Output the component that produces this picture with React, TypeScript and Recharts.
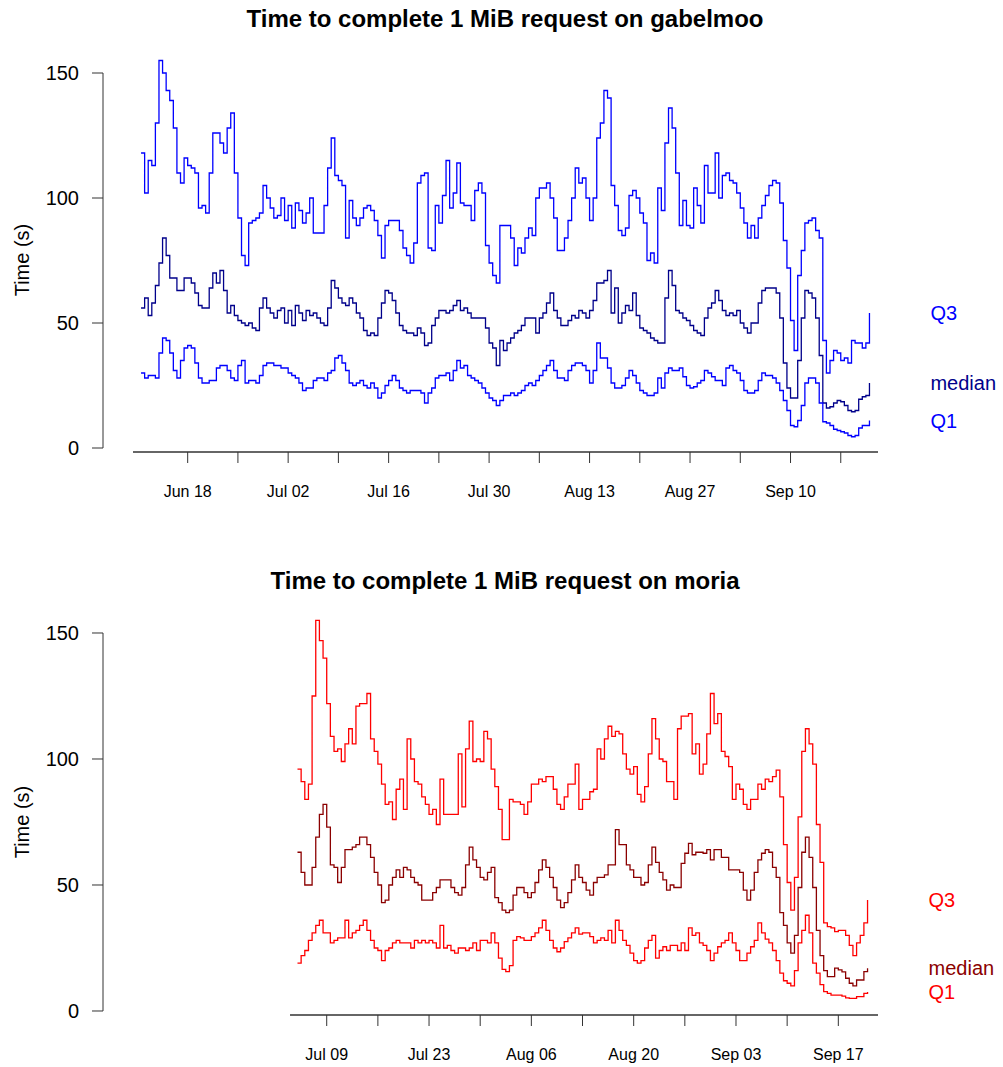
import React from 'react';
import { LineChart, Line, XAxis, YAxis, ReferenceLine } from 'recharts';

const FONT = '"Liberation Sans", Arial, Helvetica, sans-serif';

// x values are day numbers counted from May 31 (Jun 1 = 1, Jul 1 = 31, Aug 1 = 62, Sep 1 = 93)
const STEP = 0.5;
const GAB_START = 11.5;
const MORIA_START = 35;

// ---- gabelmoo (seconds) ----
const GAB_Q3 = [
  118, 102, 115, 113, 130, 155, 150, 143, 139, 128,
  110, 106, 116, 113, 112, 110, 96, 97, 94, 110,
  126, 126, 122, 118, 128, 134, 110, 92, 77, 73,
  90, 91, 92, 94, 105, 100, 96, 92, 93, 100,
  91, 97, 88, 98, 95, 90, 94, 100, 86, 86,
  86, 97, 112, 124, 109, 107, 105, 84, 99, 92,
  89, 92, 96, 97, 95, 91, 85, 76, 89, 91,
  91, 91, 87, 80, 77, 74, 82, 106, 109, 110,
  80, 79, 97, 90, 101, 115, 96, 102, 114, 98,
  97, 97, 91, 103, 106, 102, 81, 74, 69, 66,
  89, 89, 89, 84, 73, 80, 78, 84, 88, 85,
  100, 104, 104, 106, 100, 92, 79, 79, 84, 91,
  100, 112, 106, 108, 100, 91, 100, 124, 130, 143,
  140, 105, 97, 87, 85, 88, 101, 103, 100, 94,
  90, 75, 78, 74, 104, 95, 122, 136, 128, 110,
  89, 99, 89, 88, 104, 97, 90, 113, 102, 102,
  118, 100, 109, 110, 107, 106, 102, 96, 90, 84,
  89, 84, 92, 97, 101, 105, 107, 106, 98, 83,
  72, 51, 39, 69, 79, 90, 91, 92, 87, 84,
  43, 30, 35, 39, 38, 35, 36, 34, 43, 42,
  42, 40, 42, 54,
];
const GAB_MEDIAN = [
  56, 60, 53, 58, 65, 74, 84, 77, 68, 68,
  63, 63, 68, 68, 66, 62, 57, 56, 56, 64,
  70, 66, 71, 63, 54, 57, 53, 51, 50, 49,
  50, 48, 47, 56, 60, 56, 54, 52, 55, 56,
  50, 55, 49, 57, 54, 51, 55, 53, 54, 52,
  50, 49, 56, 67, 64, 60, 58, 57, 60, 58,
  54, 52, 47, 45, 46, 45, 52, 58, 63, 62,
  59, 54, 49, 47, 46, 46, 45, 48, 46, 41,
  42, 49, 52, 55, 55, 54, 55, 57, 59, 55,
  56, 54, 52, 52, 52, 52, 48, 42, 40, 33,
  43, 39, 42, 44, 46, 47, 49, 52, 52, 52,
  46, 52, 54, 58, 62, 55, 52, 49, 49, 51,
  53, 52, 55, 54, 52, 55, 59, 66, 66, 67,
  71, 54, 64, 50, 54, 57, 55, 62, 53, 48,
  47, 46, 44, 43, 42, 42, 60, 71, 65, 55,
  54, 52, 51, 49, 47, 46, 45, 52, 56, 58,
  63, 59, 55, 53, 54, 53, 55, 50, 48, 46,
  50, 50, 58, 63, 64, 64, 64, 62, 52, 34,
  24, 20, 20, 35, 52, 63, 62, 60, 52, 37,
  18, 16, 16.5, 18, 19, 18.5, 17, 15, 14.5, 15,
  19.5, 20.5, 21, 26,
];
const GAB_Q1 = [
  30, 28, 29, 29, 28, 38, 44, 43, 38, 31,
  28, 35, 40, 41, 40, 34, 28, 26, 26, 27,
  27, 32, 33, 33, 31, 28, 27, 33, 35, 26,
  27, 27, 26, 29, 33, 34, 34, 33, 33, 32,
  32, 30, 29, 28, 26, 23, 24, 24, 27, 28,
  28, 27, 30, 31, 36, 37, 34, 31, 26, 25,
  26, 27, 25, 24, 26, 24, 20, 22, 25, 27,
  29, 27, 24, 23, 22, 23, 23, 23, 22, 18,
  22, 24, 28, 29, 29, 30, 27, 31, 35, 32,
  33, 29, 28, 27, 26, 24, 22, 20, 19, 17,
  19, 21, 21, 22, 21, 22, 23, 25, 26, 25,
  27, 29, 31, 33, 35, 31, 28, 28, 27, 31,
  33, 34, 34, 33, 31, 26, 31, 42, 36, 36,
  32, 26, 24, 24, 25, 28, 31, 29, 26, 23,
  22, 21, 21, 22, 28, 24, 30, 32, 31, 31,
  32, 28.5, 25, 24, 24.5, 26, 27, 31, 30, 28.5,
  27, 27, 25, 32, 33, 31, 30, 27, 23, 22,
  22, 23, 27, 30, 29, 29, 28, 26, 23, 19,
  15, 9, 8.5, 11, 17, 26, 28, 28, 26, 18,
  10.5, 10, 9, 7.5, 7, 6.5, 6, 5, 4.5, 5,
  8, 9, 9, 11,
];

// ---- moria (seconds) ----
const MORIA_Q3 = [
  96, 91, 84, 90, 125, 155, 147, 140, 122, 109,
  103, 104, 99, 106, 112, 106, 121, 122, 122, 126,
  108, 103, 98, 90, 82, 83, 76, 88, 92, 80,
  108, 100, 91, 90, 85, 82, 78, 80, 74, 92,
  78, 78, 78, 78, 102, 81, 104, 115, 99, 100,
  99, 111, 108, 96, 89, 80, 68, 68, 84, 83,
  83, 82, 78, 83, 90, 90, 92, 91, 93, 93,
  88, 82, 80, 85, 90, 90, 98, 80, 84, 84,
  87, 88, 104, 100, 108, 113, 109, 111, 110, 102,
  96, 94, 97, 86, 83, 89, 102, 116, 108, 100,
  99, 91, 91, 84, 112, 117, 117, 118, 102, 106,
  94, 98, 110, 126, 114, 118, 103, 101, 97, 84,
  90, 88, 82, 80, 84, 84, 90, 88, 92, 91,
  93, 95.6, 85, 66, 51, 40, 53, 77, 103, 112,
  106, 98, 74, 59, 35, 33.5, 33, 31.5, 32, 32,
  30, 26, 22, 27, 30, 35, 44,
];
const MORIA_MEDIAN = [
  63, 55, 50, 50, 57, 69, 78, 82, 73, 58,
  57, 51, 57, 64, 64, 65, 66, 69, 69, 66,
  61, 55, 50, 43, 44, 50, 53, 56, 53, 57,
  56, 53, 51, 50, 44, 44, 44, 47, 49, 52,
  52, 52, 49, 47, 46, 49, 58, 65, 60, 57,
  53, 52, 55, 57, 45, 43, 40, 39, 40, 46,
  49, 49, 47, 45, 47, 51, 56, 60, 57, 53,
  49, 44, 41, 43, 47, 52, 58, 53, 51, 48,
  46, 51, 53, 53, 54, 58, 58, 72, 66, 66,
  58, 56, 53, 53, 50, 51, 58, 65, 59, 55,
  52, 48, 50, 49, 49, 58.6, 62.6, 66.5, 62, 63,
  63, 62.6, 64, 60, 64, 64, 61, 61, 56, 56,
  56, 55, 48, 44, 48, 55, 60, 62.6, 64, 63,
  57, 53, 39, 34, 27, 23, 30, 49, 63, 69,
  61, 49, 32, 22, 16, 13.6, 13.6, 17, 16.3, 15.5,
  13, 11, 10, 12.3, 12.3, 15.6, 17,
];
const MORIA_Q1 = [
  19, 22, 24, 28, 31, 34, 36, 31, 31, 27,
  28, 29, 29, 36, 29, 31, 32, 34, 36, 32,
  28, 25, 24, 20, 24, 25, 27, 28, 27, 27,
  27, 25, 28, 27, 28, 27, 28, 27, 25, 34,
  25, 26, 24, 23, 25, 25, 24, 25, 27, 24,
  28, 28, 27, 31, 27, 21, 16.5, 15.6, 18, 28,
  29.5, 29, 28, 28, 29.5, 31, 33, 36, 32, 28,
  25, 23.5, 25, 27.5, 29, 31, 33, 30.5, 31, 31,
  29.5, 27, 28, 29, 28, 32, 27, 36, 32, 28,
  26, 23, 20, 19, 20, 25, 28, 30, 21, 24,
  25.5, 24, 26, 26, 24, 27, 24, 33, 30, 31,
  27, 26, 24, 20, 23, 25.5, 27, 28, 31, 27,
  24, 20, 20, 23, 25.5, 28, 35, 31, 28.5, 27,
  24, 20, 15, 12, 11, 10, 16, 27, 32, 38,
  31, 19, 15, 10.5, 7.7, 7, 6.3, 6.3, 6.3, 5.9,
  5.2, 5, 5, 5.7, 5.7, 7, 7.5,
];

// ---- axes ----
const Y_TICKS = [0, 50, 100, 150];
const GAB_TICKS = [18, 25, 32, 39, 46, 53, 60, 67, 74, 81, 88, 95, 102, 109];
const GAB_TICK_LABELS = ['Jun 18', '', 'Jul 02', '', 'Jul 16', '', 'Jul 30', '', 'Aug 13', '', 'Aug 27', '', 'Sep 10', ''];
const MORIA_TICKS = [39, 46, 53, 60, 67, 74, 81, 88, 95, 102, 109];
const MORIA_TICK_LABELS = ['Jul 09', '', 'Jul 23', '', 'Aug 06', '', 'Aug 20', '', 'Sep 03', '', 'Sep 17'];

function buildRows(start: number, q1: number[], median: number[], q3: number[]) {
  return q3.map((v, i) => ({ day: start + i * STEP, q1: q1[i], median: median[i], q3: v }));
}

const gabData = buildRows(GAB_START, GAB_Q1, GAB_MEDIAN, GAB_Q3);
const moriaData = buildRows(MORIA_START, MORIA_Q1, MORIA_MEDIAN, MORIA_Q3);

const makeEndLabel = (text: string, color: string, lastIndex: number) => (props: any) => {
  const { x, y, index } = props;
  if (index !== lastIndex) return null;
  return (
    <text key={`end-${text}`} x={x + 61} y={y} dy="0.35em" fill={color} fontSize={20} fontFamily={FONT}>
      {text}
    </text>
  );
};

type PanelProps = {
  data: any[];
  xDomain: [number, number];
  yDomain: [number, number];
  ticks: number[];
  tickLabels: string[];
  axisLineStart: number;
  height: number;
  marginTop: number;
  marginBottom: number;
  xAxisHeight: number;
  quartileColor: string;
  medianColor: string;
};

function Panel(p: PanelProps) {
  const last = p.data.length - 1;
  const fmt = (v: number) => {
    const i = p.ticks.indexOf(v);
    return i >= 0 ? p.tickLabels[i] : '';
  };
  const axisStroke = '#333';
  const lineProps = {
    type: 'stepAfter' as const,
    strokeWidth: 1.3,
    dot: false,
    activeDot: false,
    isAnimationActive: false,
  };
  return (
    <LineChart
      width={1003}
      height={p.height}
      data={p.data}
      margin={{ top: p.marginTop, right: 125, bottom: p.marginBottom, left: 43 }}
    >
      <XAxis
        type="number"
        dataKey="day"
        domain={p.xDomain}
        ticks={p.ticks}
        interval={0}
        tickFormatter={fmt}
        axisLine={false}
        tickLine={{ stroke: axisStroke }}
        tickSize={11}
        tickMargin={23}
        height={p.xAxisHeight}
        tick={{ fontSize: 16, fill: '#000', fontFamily: FONT }}
      />
      <YAxis
        type="number"
        domain={p.yDomain}
        ticks={Y_TICKS}
        interval={0}
        axisLine={false}
        tickLine={{ stroke: axisStroke }}
        tickSize={11}
        tickMargin={13}
        width={60}
        tick={{ fontSize: 20, fill: '#000', fontFamily: FONT }}
      />
      <ReferenceLine
        segment={[{ x: p.xDomain[0], y: 0 }, { x: p.xDomain[0], y: 150 }]}
        stroke={axisStroke}
        strokeWidth={1}
        ifOverflow="visible"
      />
      <ReferenceLine
        segment={[{ x: p.axisLineStart, y: p.yDomain[0] }, { x: p.xDomain[1], y: p.yDomain[0] }]}
        stroke={axisStroke}
        strokeWidth={1.5}
        ifOverflow="visible"
      />
      <Line {...lineProps} dataKey="q3" stroke={p.quartileColor} label={makeEndLabel('Q3', p.quartileColor, last)} />
      <Line {...lineProps} dataKey="median" stroke={p.medianColor} label={makeEndLabel('median', p.medianColor, last)} />
      <Line {...lineProps} dataKey="q1" stroke={p.quartileColor} label={makeEndLabel('Q1', p.quartileColor, last)} />
    </LineChart>
  );
}

const titleStyle: React.CSSProperties = {
  position: 'absolute',
  left: 0,
  width: 1010,
  textAlign: 'center',
  fontFamily: FONT,
  fontWeight: 'bold',
  fontSize: 24,
  lineHeight: '24px',
  color: '#000',
};

const yTitleStyle: React.CSSProperties = {
  position: 'absolute',
  width: 200,
  height: 24,
  lineHeight: '24px',
  textAlign: 'center',
  fontFamily: FONT,
  fontSize: 20,
  color: '#000',
  transform: 'rotate(-90deg)',
  transformOrigin: '50% 50%',
};

export default function App() {
  return (
    <div style={{ position: 'absolute', left: 0, top: 0, width: 1003, height: 1067, background: '#fff', overflow: 'hidden' }}>
      <div style={{ ...titleStyle, top: 7 }}>Time to complete 1 MiB request on gabelmoo</div>
      <div style={{ ...yTitleStyle, left: 22 - 100, top: 260 - 12 }}>Time (s)</div>
      <div style={{ position: 'absolute', left: 0, top: 0 }}>
        <Panel
          data={gabData}
          xDomain={[6.2, 114.19]}
          yDomain={[-1.6, 160]}
          ticks={GAB_TICKS}
          tickLabels={GAB_TICK_LABELS}
          axisLineStart={10.38}
          height={530}
          marginTop={48}
          marginBottom={18}
          xAxisHeight={60}
          quartileColor="#0000ff"
          medianColor="#00008b"
        />
      </div>

      <div style={{ ...titleStyle, top: 569 }}>Time to complete 1 MiB request on moria</div>
      <div style={{ ...yTitleStyle, left: 22 - 100, top: 822 - 12 }}>Time (s)</div>
      <div style={{ position: 'absolute', left: 0, top: 520 }}>
        <Panel
          data={moriaData}
          xDomain={[8.39, 114.43]}
          yDomain={[-1.59, 159.92]}
          ticks={MORIA_TICKS}
          tickLabels={MORIA_TICK_LABELS}
          axisLineStart={33.98}
          height={547}
          marginTop={88}
          marginBottom={12}
          xAxisHeight={40}
          quartileColor="#ff0000"
          medianColor="#8b0000"
        />
      </div>
    </div>
  );
}
